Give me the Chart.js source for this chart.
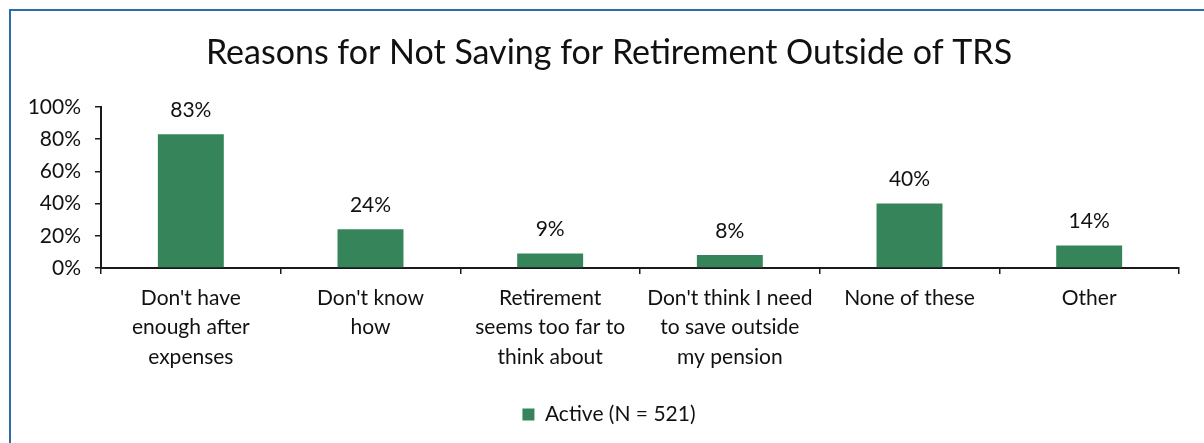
<!DOCTYPE html>
<html>
<head>
<meta charset="utf-8">
<title>Reasons for Not Saving for Retirement Outside of TRS</title>
<script src="https://cdn.jsdelivr.net/npm/chart.js@4.4.1/dist/chart.umd.min.js"></script>
<style>
  html, body { margin: 0; padding: 0; background: #ffffff; }
  #wrap { position: absolute; left: 0; top: 0; width: 1204px; height: 443px; overflow: hidden; }
  #c { position: absolute; left: 0; top: 0; }
  #frame {
    position: absolute; left: 9px; top: 9px; width: 1400px; height: 600px;
    border-left: 2px solid #2E6DA4; border-top: 2px solid #2E6DA4;
    pointer-events: none;
  }
</style>
</head>
<body>
<div id="wrap">
  <canvas id="c" width="1204" height="443"></canvas>
  <div id="frame"></div>
</div>
<script>
// Survey responses, percent of active members
const titleText = 'Reasons for Not Saving for Retirement Outside of TRS';
const categories = [
  ["Don't have", 'enough after', 'expenses'],
  ["Don't know", 'how'],
  ['Retirement', 'seems too far to', 'think about'],
  ["Don't think I need", 'to save outside', 'my pension'],
  ['None of these'],
  ['Other']
];
const seriesName = 'Active (N = 521)';
const activeValues = [83, 24, 9, 8, 40, 14];
const yMin = 0;
const yMax = 100;
const yStep = 20;

const FONT = 'Lato, "Open Sans", sans-serif';
const BAR_COLOR = '#36845A';
const AXIS_COLOR = '#1a1a1a';

// Percent labels above each bar
const barValueLabels = {
  id: 'barValueLabels',
  afterDatasetsDraw(chart) {
    const ctx = chart.ctx;
    ctx.save();
    ctx.font = '21px ' + FONT;
    ctx.fillStyle = '#111';
    ctx.textAlign = 'center';
    ctx.textBaseline = 'middle';
    chart.data.datasets.forEach((ds, i) => {
      chart.getDatasetMeta(i).data.forEach((bar, j) => {
        ctx.fillText(ds.data[j] + '%', bar.x, bar.y - 24);
      });
    });
    ctx.restore();
  }
};

// Let the y tick labels use the space to the left of the padded layout
const widenYLabelArea = {
  id: 'widenYLabelArea',
  afterLayout(chart) {
    chart.scales.y.left = 12;
  }
};

new Chart(document.getElementById('c'), {
  type: 'bar',
  data: {
    labels: categories,
    datasets: [{
      label: seriesName,
      data: activeValues,
      backgroundColor: BAR_COLOR,
      borderWidth: 0,
      categoryPercentage: 1.0,
      barPercentage: 0.367
    }]
  },
  options: {
    responsive: false,
    animation: false,
    devicePixelRatio: 1,
    layout: { padding: { left: 39, right: 25, top: 0, bottom: 8 } },
    plugins: {
      title: {
        display: true,
        text: titleText,
        color: '#111',
        font: { family: FONT, size: 34, weight: 'normal', lineHeight: 1.2 },
        padding: { top: 33, bottom: 33 }
      },
      legend: {
        display: true,
        position: 'bottom',
        labels: {
          color: '#111',
          font: { family: FONT, size: 21 },
          boxWidth: 12,
          boxHeight: 12,
          padding: 12
        }
      },
      tooltip: { enabled: false }
    },
    scales: {
      x: {
        grid: {
          display: true,
          drawOnChartArea: false,
          drawTicks: true,
          tickLength: 6,
          color: AXIS_COLOR,
          lineWidth: 1.5,
          offset: true
        },
        border: { display: true, color: AXIS_COLOR, width: 2 },
        ticks: {
          color: '#111',
          font: { family: FONT, size: 21, lineHeight: 1.42 },
          maxRotation: 0,
          autoSkip: false,
          padding: 9
        },
        afterFit(scale) { scale.height = 124; }
      },
      y: {
        min: yMin,
        max: yMax,
        grid: {
          display: true,
          drawOnChartArea: false,
          drawTicks: true,
          tickLength: 6,
          color: AXIS_COLOR,
          lineWidth: 1.5
        },
        border: { display: true, color: AXIS_COLOR, width: 2 },
        ticks: {
          stepSize: yStep,
          color: '#111',
          font: { family: FONT, size: 21 },
          padding: 14,
          callback: v => v + '%'
        },
        afterFit(scale) { scale.width = 62; }
      }
    }
  },
  plugins: [barValueLabels, widenYLabelArea]
});
</script>
</body>
</html>
